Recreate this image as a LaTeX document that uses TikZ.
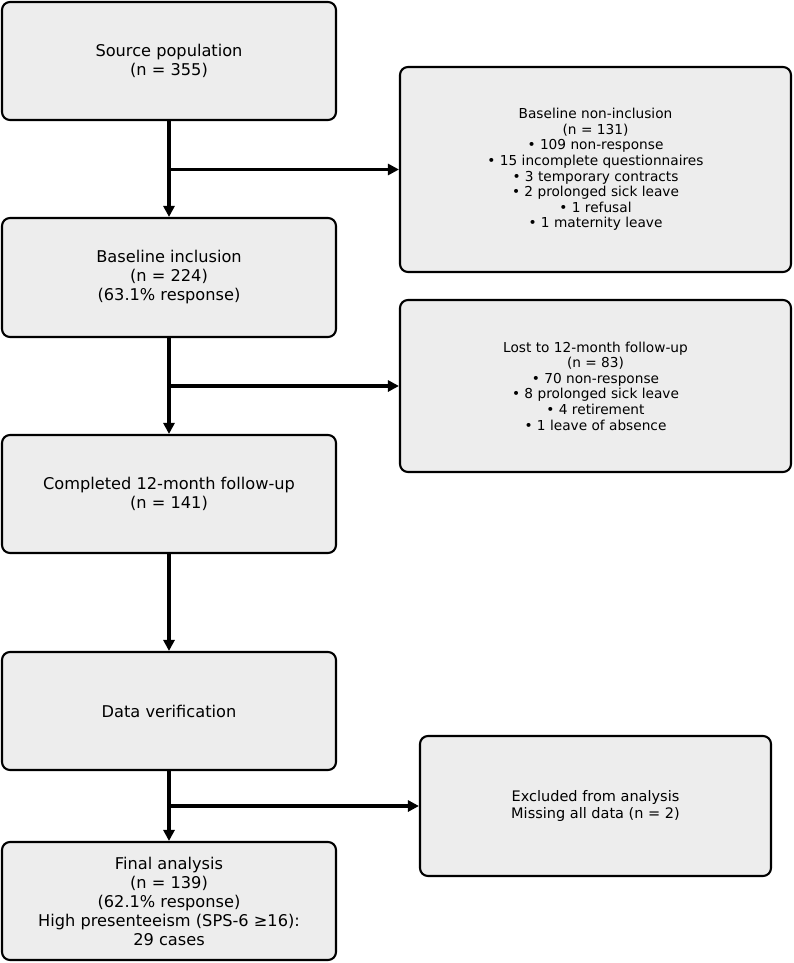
\documentclass[tikz,border=0pt]{standalone}
\usepackage{fontspec}
\setmainfont{DejaVu Sans}
\usetikzlibrary{arrows.meta}
\definecolor{boxfill}{HTML}{EDEDED}
\tikzset{
  box/.style={draw=black, fill=boxfill, line width=2.1pt, rounded corners=8pt,
    inner sep=0pt, align=center},
  mainbox/.style={box, minimum width=334pt, minimum height=118pt,
    font=\fontsize{16.2}{19}\selectfont},
  sidebox/.style={box, minimum width=391pt, font=\fontsize{13.7}{15.6}\selectfont},
  arr/.style={line width=3.2pt, -{Triangle[length=11pt,width=11pt]}},
}
\begin{document}
\begin{tikzpicture}[x=1pt,y=-1pt]
\useasboundingbox (0,0) rectangle (794,963);
\node[mainbox] (src) at (169,61) {Source population\\(n = 355)};
\node[mainbox, minimum height=119pt] (incl) at (169,277.5) {Baseline inclusion\\(n = 224)\\(63.1\% response)};
\node[mainbox] (comp) at (169,494) {Completed 12-month follow-up\\(n = 141)};
\node[mainbox] (ver) at (169,711) {Data verification};
\node[mainbox] (fin) at (169,901) {Final analysis\\(n = 139)\\(62.1\% response)\\High presenteeism (SPS-6 ≥16):\\29 cases};

\node[sidebox, minimum height=205pt] (nonincl) at (595.5,169.5) {Baseline non-inclusion\\(n = 131)\\• 109 non-response\\• 15 incomplete questionnaires\\• 3 temporary contracts\\• 2 prolonged sick leave\\• 1 refusal\\• 1 maternity leave};
\node[sidebox, minimum height=172pt] (lost) at (595.5,386) {Lost to 12-month follow-up\\(n = 83)\\• 70 non-response\\• 8 prolonged sick leave\\• 4 retirement\\• 1 leave of absence};
\node[box, minimum width=351pt, minimum height=140pt, font=\fontsize{14.5}{16.9}\selectfont] (excl) at (595.5,806) {Excluded from analysis\\Missing all data (n = 2)};

\coordinate (b1) at (src.south |- nonincl.west);
\coordinate (b2) at (incl.south |- lost.west);
\coordinate (b3) at (ver.south |- excl.west);

\draw[arr] (src.south) -- (incl.north);
\draw[arr] (incl.south) -- (comp.north);
\draw[arr] (comp.south) -- (ver.north);
\draw[arr] (ver.south) -- (fin.north);
\draw[arr] (b1) -- (nonincl.west);
\draw[arr] (b2) -- (lost.west);
\draw[arr] (b3) -- (excl.west);
\end{tikzpicture}
\end{document}
